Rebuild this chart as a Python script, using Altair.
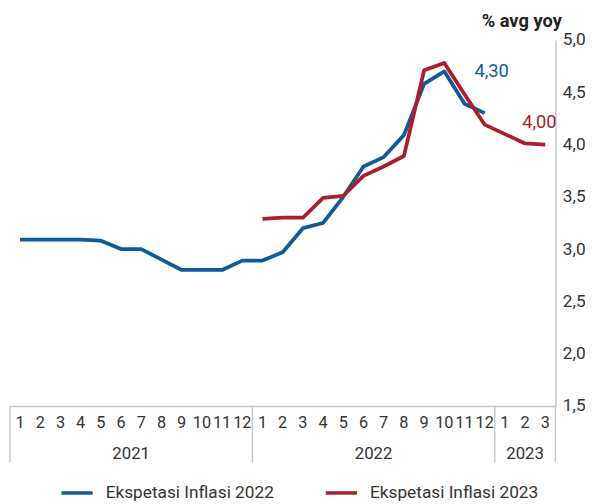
import altair as alt
import pandas as pd

# ---- data ----
months = [1, 2, 3, 4, 5, 6, 7, 8, 9, 10, 11, 12,
          1, 2, 3, 4, 5, 6, 7, 8, 9, 10, 11, 12,
          1, 2, 3]
years = ["2021"] * 12 + ["2022"] * 12 + ["2023"] * 3

name_2022 = "Ekspetasi Inflasi 2022"
name_2023 = "Ekspetasi Inflasi 2023"

# Ekspetasi Inflasi 2022: Jan 2021 .. Dec 2022
values_2022 = [3.09, 3.09, 3.09, 3.09, 3.08, 3.00, 3.00, 2.90, 2.80, 2.80, 2.80, 2.89,
               2.89, 2.97, 3.20, 3.25, 3.50, 3.79, 3.88, 4.09, 4.58, 4.70, 4.39, 4.30]
# Ekspetasi Inflasi 2023: Jan 2022 .. Mar 2023
values_2023 = [3.29, 3.30, 3.30, 3.49, 3.51, 3.70, 3.79, 3.89, 4.71, 4.78, 4.48, 4.19,
               4.10, 4.01, 4.00]
start_2023 = 12

end_label_2022 = "4,30"
end_label_2023 = "4,00"

y_ticks = [1.5, 2.0, 2.5, 3.0, 3.5, 4.0, 4.5, 5.0]

BLUE = "#0f5a9b"
RED = "#ab1e2c"
GREY = "#c8c8c8"
TEXT = "#333333"
FONT = "Roboto"

# ---- tables ----
rows = []
for i, v in enumerate(values_2022):
    rows.append({"idx": i, "value": v, "series": name_2022})
for j, v in enumerate(values_2023):
    rows.append({"idx": start_2023 + j, "value": v, "series": name_2023})
df = pd.DataFrame(rows)

month_df = pd.DataFrame({"idx": list(range(len(months))), "month": [str(m) for m in months]})

year_names = sorted(set(years))
year_df = pd.DataFrame([
    {"year": y,
     "pos": (years.index(y) + (len(years) - 1 - years[::-1].index(y))) / 2}
    for y in year_names
])
bounds = [-0.5] + [len(years) - years[::-1].index(y) - 0.5 for y in year_names]
sep_df = pd.DataFrame({"pos": bounds})

end_df_2022 = pd.DataFrame([{"idx": len(values_2022) - 1, "value": values_2022[-1], "label": end_label_2022}])
end_df_2023 = pd.DataFrame([{"idx": start_2023 + len(values_2023) - 1, "value": values_2023[-1], "label": end_label_2023}])

W, H = 553, 371
xscale = alt.Scale(domain=[-0.5, len(months) - 0.5], nice=False, zero=False)
yscale = alt.Scale(domain=[1.5, 5.0], nice=False, zero=False)

x_axis = alt.Axis(labels=False, title=None, ticks=False, grid=False,
                  domainColor=GREY, domainWidth=1.5)
y_axis = alt.Axis(orient="right", values=y_ticks,
                  labelExpr="replace(format(datum.value, '.1f'), '.', ',')",
                  title="% avg yoy", titleAngle=0, titleAlign="right", titleBaseline="middle",
                  titleX=6, titleY=-20, titleFontSize=18.5, titleFontWeight="bold",
                  titleFont=FONT, titleColor="#222222",
                  ticks=False, grid=False, domainColor=GREY, domainWidth=1.5,
                  labelFontSize=17.5, labelColor=TEXT, labelFont=FONT, labelPadding=7,
                  labelOverlap=False, labelFlush=False)

lines = alt.Chart(df).mark_line(strokeWidth=3.8, strokeJoin="round").encode(
    x=alt.X("idx:Q", scale=xscale, axis=x_axis),
    y=alt.Y("value:Q", scale=yscale, axis=y_axis),
    color=alt.Color("series:N",
                    scale=alt.Scale(domain=[name_2022, name_2023], range=[BLUE, RED]),
                    legend=alt.Legend(title=None, orient="none", legendX=50, legendY=441,
                                      direction="horizontal", columns=2, columnPadding=45,
                                      symbolType="stroke", symbolSize=1000, symbolStrokeWidth=3.5,
                                      labelFontSize=17.5, labelColor=TEXT, labelFont=FONT,
                                      labelOffset=11, labelLimit=300)),
)

seps = alt.Chart(sep_df).mark_rule(color=GREY, strokeWidth=1.5).encode(
    x=alt.X("pos:Q", scale=xscale),
    y=alt.value(H),
    y2=alt.value(H + 57),
)

month_text = alt.Chart(month_df).mark_text(fontSize=16.5, color=TEXT, font=FONT, baseline="middle").encode(
    x=alt.X("idx:Q", scale=xscale),
    y=alt.value(H + 17),
    text="month:N",
)

year_text = alt.Chart(year_df).mark_text(fontSize=17, color=TEXT, font=FONT, baseline="middle").encode(
    x=alt.X("pos:Q", scale=xscale),
    y=alt.value(H + 49),
    text="year:N",
)

lab_2022 = alt.Chart(end_df_2022).mark_text(fontSize=18.5, color=BLUE, font=FONT, dx=7, dy=-43).encode(
    x=alt.X("idx:Q", scale=xscale), y=alt.Y("value:Q", scale=yscale), text="label:N")
lab_2023 = alt.Chart(end_df_2023).mark_text(fontSize=18.5, color=RED, font=FONT, dx=-6, dy=-23).encode(
    x=alt.X("idx:Q", scale=xscale), y=alt.Y("value:Q", scale=yscale), text="label:N")

chart = alt.layer(seps, lines, month_text, year_text, lab_2022, lab_2023).properties(
    width=W, height=H,
    autosize=alt.AutoSizeParams(type="none"),
    padding={"left": 2, "top": 29, "right": 30, "bottom": 95},
).configure_view(stroke=None)

chart.save("out.html", embed_options={"renderer": "svg", "actions": False})
